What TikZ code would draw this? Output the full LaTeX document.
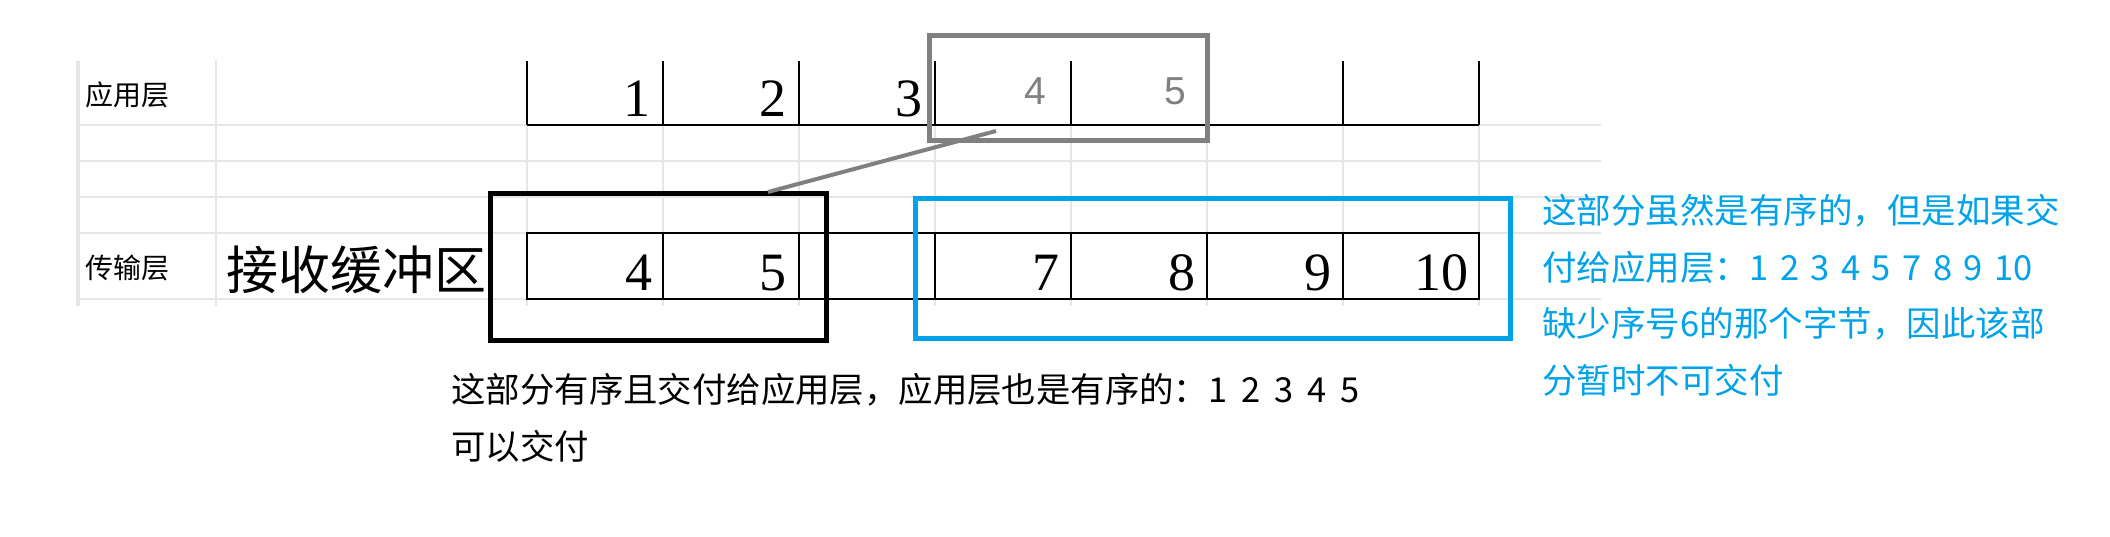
\documentclass[tikz,border=0pt]{standalone}
\usepackage{fontspec}
\setmainfont{Liberation Serif}
\newfontfamily\cjk{Noto Sans CJK SC}
\newfontfamily\gsans{Liberation Sans}
\definecolor{gridc}{HTML}{E6E6E6}
\definecolor{boxgrey}{HTML}{808080}
\definecolor{skyblue}{HTML}{00A2E8}
\newcommand{\widespaces}{\spaceskip=5.75pt plus 0pt minus 0pt\relax}
\newcommand{\blackspaces}{\spaceskip=7pt plus 0pt minus 0pt\relax}
\begin{document}
\begin{tikzpicture}[x=0.5pt,y=-0.5pt,
  gridline/.style={draw=gridc, line width=0.8pt},
  tabline/.style={draw=black, line width=0.75pt},
  numcell/.style={anchor=base east, inner sep=0pt, font=\fontsize{27}{27}\selectfont},
  greynum/.style={anchor=base east, inner sep=0pt, text=boxgrey, font=\gsans\fontsize{19.5}{19.5}\selectfont},
  rowlabel/.style={anchor=west, inner sep=0pt, font=\cjk\fontsize{14}{14}\selectfont},
  frame/.style={line width=2.5pt, inner sep=0pt, fill=none},
  bluetext/.style={anchor=west, inner sep=0pt, text=skyblue, font=\cjk\fontsize{17.25}{17.25}\selectfont},
  blacktext/.style={anchor=west, inner sep=0pt, font=\cjk\fontsize{17.2}{17.2}\selectfont}]
\useasboundingbox (0,0) rectangle (2110,536);
% spreadsheet grid
\foreach \x in {216,527,663,799,935,1071,1207,1343,1479}
  \draw[gridline] (\x,61) -- (\x,306);
\draw[draw=gridc, line width=1.6pt] (78,61) -- (78,306);
\foreach \y in {125,161,197,233,299}
  \draw[gridline] (78,\y) -- (1601,\y);
% application layer row
\foreach \x in {527,663,799,935,1071,1207,1343,1479}
  \draw[tabline] (\x,61) -- (\x,125);
\draw[tabline] (527,125) -- (1479,125);
% transport layer row
\draw[tabline] (527,233) rectangle (1479,299);
\foreach \x in {663,799,935,1071,1207,1343}
  \draw[tabline] (\x,233) -- (\x,299);
% labels
\node[rowlabel] (applbl) at (85,95) {应用层};
\node[rowlabel] (translbl) at (85,268) {传输层};
\node[anchor=west, inner sep=0pt, font=\cjk\fontsize{26}{26}\selectfont] (buflbl) at (226,270) {接收缓冲区};
% numbers
\node[numcell] (a1) at (651,116) {1};
\node[numcell] (a2) at (787,116) {2};
\node[numcell] (a3) at (923,116) {3};
\node[greynum] (a4) at (1047,104) {4};
\node[greynum] (a5) at (1187,104) {5};
\node[numcell] (t4) at (653,290) {4};
\node[numcell] (t5) at (787,290) {5};
\node[numcell] (t7) at (1060,290) {7};
\node[numcell] (t8) at (1196,290) {8};
\node[numcell] (t9) at (1332,290) {9};
\node[numcell] (t10) at (1469,290) {10};
% frames
\node[frame, draw=boxgrey, minimum width=139pt, minimum height=52.5pt] (gbox) at (1068,87.5) {};
\node[frame, draw=black, minimum width=168pt, minimum height=73.5pt] (bbox) at (658,266.5) {};
\node[frame, draw=skyblue, minimum width=297.5pt, minimum height=70pt] (lbox) at (1213,268.5) {};
% connector
\coordinate (gs) at (996,131);
\coordinate (be) at (768,192);
\draw[draw=boxgrey, line width=2pt] (gs) -- (be);
% blue explanation
\node[bluetext] (bl1) at (1542,211) {这部分虽然是有序的，但是如果交};
\node[bluetext] (bl2) at (1542,267) {\widespaces 付给应用层：1 2 3 4 5 7 8 9 10};
\node[bluetext] (bl3) at (1542,324) {缺少序号6的那个字节，因此该部};
\node[bluetext] (bl4) at (1542,380) {分暂时不可交付};
% black explanation
\node[blacktext] (bk1) at (451,390) {\blackspaces 这部分有序且交付给应用层，应用层也是有序的：1 2 3 4 5};
\node[blacktext] (bk2) at (451,446) {可以交付};
\end{tikzpicture}
\end{document}
